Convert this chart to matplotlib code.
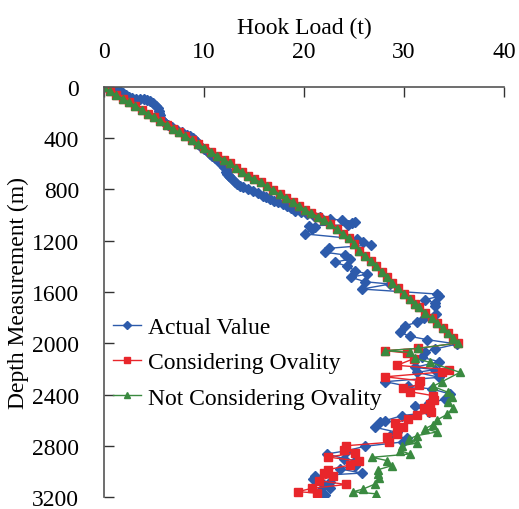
import matplotlib
matplotlib.use("Agg")
from matplotlib import pyplot as plt

plt.rcParams['font.family'] = ['Liberation Serif', 'DejaVu Serif']

# Actual Value (depth m, hook load t)
actual_depth = [0, 3, 6, 20, 34, 50, 65, 80, 86, 90, 94, 97, 99, 110, 125, 145, 164, 185, 203, 222,
                242, 256, 268, 281, 294, 310, 333, 350, 372, 386, 398, 415, 430, 447, 463, 483, 502, 520,
                537, 554, 571, 588, 606, 628, 650, 666, 680, 695, 705, 718, 738, 757, 770, 783, 796, 809,
                828, 848, 861, 874, 887, 900, 913, 926, 945, 965, 978, 991, 1004, 1017, 1030, 1040, 1051,
                1064, 1077, 1082, 1095, 1110, 1147, 1186, 1210, 1233, 1259, 1290, 1311, 1342, 1368, 1399,
                1433, 1460, 1485, 1520, 1538, 1577, 1616, 1634, 1660, 1686, 1712, 1772, 1805, 1837, 1863,
                1915, 1946, 1972, 2006, 2045, 2066, 2110, 2144, 2188, 2206, 2227, 2266, 2300, 2336, 2357,
                2396, 2435, 2470, 2492, 2539, 2565, 2604, 2617, 2656, 2695, 2721, 2740, 2770, 2804, 2838,
                2864, 2900, 2916, 2955, 2981, 3013, 3034, 3060, 3086, 3110, 3132, 3150, 3185]
actual_load = [0.0, 0.6, 1.1, 1.3, 1.6, 1.9, 2.2, 2.5, 2.8, 3.2, 3.6, 4.0, 4.3, 4.6, 4.9, 5.2, 5.4, 5.5,
               5.5, 5.6, 5.6, 5.8, 5.9, 6.1, 6.4, 6.8, 7.3, 7.8, 8.3, 8.6, 8.9, 9.1, 9.3, 9.4, 9.6, 10.0,
               10.3, 10.6, 10.8, 11.1, 11.3, 11.6, 11.8, 12.0, 12.3, 12.2, 12.3, 12.5, 12.6, 12.8, 13.1,
               13.3, 13.6, 13.9, 14.4, 14.9, 15.4, 15.9, 16.2, 16.6, 17.0, 17.4, 17.9, 18.3, 18.7, 19.1,
               19.7, 20.3, 21.0, 21.6, 22.6, 23.8, 25.1, 24.8, 24.4, 20.5, 21.1, 20.8, 20.1, 25.3, 25.9,
               26.7, 22.5, 22.1, 24.1, 24.6, 23.1, 24.3, 25.1, 26.3, 24.7, 26.1, 28.6, 25.8, 33.3, 33.5,
               32.1, 33.1, 33.1, 33.2, 32.0, 31.3, 30.1, 29.6, 30.6, 32.3, 35.3, 33.1, 32.1, 31.8, 33.5,
               31.1, 33.1, 31.3, 33.5, 28.1, 30.4, 32.8, 34.6, 34.1, 32.5, 31.1, 32.5, 29.8, 28.1, 27.6,
               27.1, 29.3, 28.6, 30.3, 29.9, 26.1, 24.3, 22.3, 24.0, 25.1, 25.1, 23.6, 25.8, 21.1, 20.9,
               22.6, 22.0, 22.6, 21.6, 22.1]

# common model part (both models identical down to ~2000 m)
model_depth = [0, 31, 62, 90, 117, 146, 177, 208, 234, 263, 294, 325, 354, 380, 416, 442, 476, 507, 536,
               567, 593, 632, 661, 692, 718, 744, 775, 806, 838, 864, 895, 926, 957, 983, 1012, 1040, 1071,
               1110, 1144, 1180, 1228, 1278, 1317, 1356, 1399, 1441, 1485, 1530, 1571, 1616, 1655, 1690,
               1720, 1764, 1806, 1842, 1884, 1920, 1962, 1998, 2040, 2058]
model_load = [0.0, 0.6, 1.2, 1.9, 2.5, 3.1, 3.8, 4.4, 5.0, 5.6, 6.3, 6.9, 7.5, 8.1, 8.8, 9.4, 10.0, 10.7,
              11.3, 12.0, 12.6, 13.2, 13.8, 14.4, 15.0, 15.7, 16.3, 16.9, 17.6, 18.2, 18.9, 19.5, 20.1,
              20.7, 21.4, 22.0, 22.6, 23.3, 23.9, 24.5, 25.0, 25.5, 26.1, 26.7, 27.2, 27.8, 28.3, 28.8,
              29.4, 30.0, 30.6, 31.1, 31.5, 32.1, 32.8, 33.3, 33.9, 34.4, 34.9, 35.4, 31.4, 28.1]

oval_depth = model_depth + [2076, 2120, 2172, 2206, 2224, 2262, 2292, 2322, 2352, 2378, 2409, 2440, 2474,
                            2505, 2539, 2560, 2591, 2622, 2651, 2690, 2708, 2734, 2773, 2800, 2831, 2857,
                            2888, 2920, 2950, 2987, 3013, 3037, 3073, 3102, 3132, 3158, 3170]
oval_load = model_load + [30.3, 31.0, 29.3, 34.5, 33.8, 28.1, 31.6, 31.5, 29.9, 30.6, 32.9, 33.0, 32.6,
                          32.0, 32.7, 31.3, 30.4, 29.1, 29.9, 29.3, 29.3, 28.3, 28.5, 24.2, 24.0, 25.1,
                          22.4, 25.5, 24.6, 22.4, 22.0, 22.9, 21.5, 24.2, 20.8, 19.4, 21.3]

nooval_depth = model_depth + [2071, 2118, 2149, 2227, 2300, 2336, 2383, 2418, 2460, 2504, 2556, 2598,
                              2635, 2667, 2692, 2721, 2747, 2778, 2800, 2838, 2864, 2890, 2916, 2955,
                              2987, 3021, 3054, 3099, 3138, 3159, 3175]
nooval_load = model_load + [30.6, 31.1, 32.6, 35.6, 33.8, 32.9, 34.4, 34.8, 34.4, 34.9, 34.3, 33.3,
                            32.9, 32.1, 33.3, 31.3, 30.5, 31.3, 29.8, 29.6, 30.6, 26.8, 28.3, 28.8,
                            27.4, 27.4, 27.5, 27.1, 25.9, 24.9, 27.2]

blue = '#2D5BAB'
red = '#E8262B'
green = '#3A8A40'

fig = plt.figure(figsize=(5.19, 5.10), dpi=100)
ax = fig.add_axes([0.2004, 0.0235, 0.7707, 0.804])

ax.plot(actual_load, actual_depth, color=blue, lw=1.0, marker='D', ms=5.2, mec=blue, mfc=blue,
        label='Actual Value')
ax.plot(oval_load, oval_depth, color=red, lw=1.0, marker='s', ms=5.2, mec=red, mfc=red,
        label='Considering Ovality')
ax.plot(nooval_load, nooval_depth, color=green, lw=1.0, marker='^', ms=6.0, mec=green, mfc=green,
        label='Not Considering Ovality')

ax.set_xlim(0, 40)
ax.set_ylim(3200, 0)
ax.set_xticks([0, 10, 20, 30, 40])
ax.set_yticks(range(0, 3201, 400))
ax.xaxis.set_ticks_position('top')
ax.xaxis.set_label_position('top')
ax.tick_params(axis='x', direction='in', length=7, width=1, labelsize=17, pad=18, colors='#333333',
               labelcolor='black')
ax.tick_params(axis='y', direction='in', length=7, width=1, labelsize=17, pad=18, colors='#333333',
               labelcolor='black')
for side in ['right', 'bottom']:
    ax.spines[side].set_visible(False)
for side in ['left', 'top']:
    ax.spines[side].set_color('#555555')
    ax.spines[side].set_linewidth(1.2)

ax.set_xlabel('Hook Load (t)', fontsize=17, labelpad=6)
ax.set_ylabel('Depth Measurement (m)', fontsize=17, labelpad=2)
ax.legend(loc='upper left', bbox_to_anchor=(0.0225, 0.44), frameon=False, fontsize=17,
          handlelength=1.2, labelspacing=0.58, handletextpad=0.3, borderpad=0, borderaxespad=0,
          markerscale=0.75)

fig.savefig('out.png', dpi=100)
